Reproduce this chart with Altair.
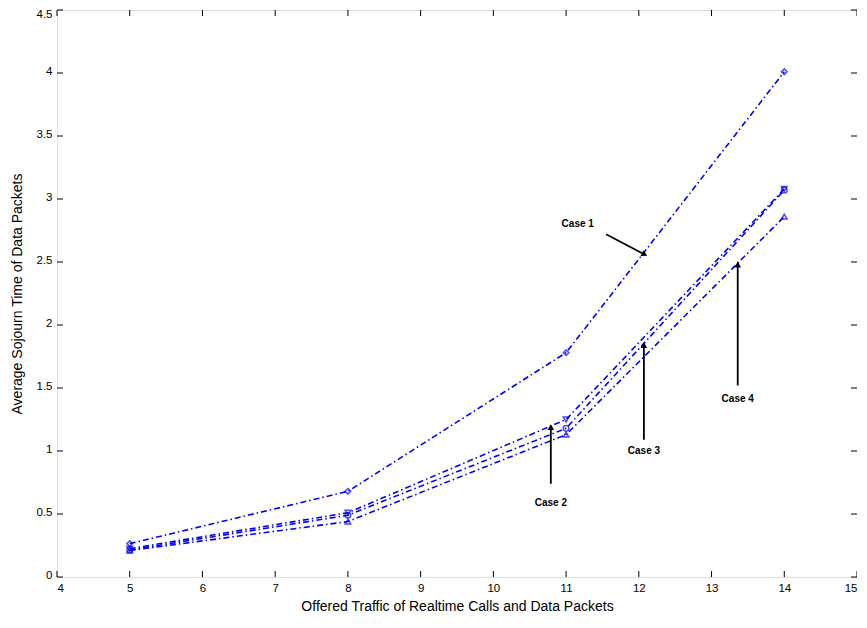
import altair as alt
import pandas as pd

traffic = [5, 8, 11, 14]
case1 = [0.265, 0.68, 1.78, 4.01]
case2 = [0.225, 0.51, 1.25, 3.08]
case3 = [0.215, 0.49, 1.18, 3.07]
case4 = [0.21, 0.44, 1.13, 2.86]
case_names = ["Case 1", "Case 2", "Case 3", "Case 4"]
shapes = ["diamond", "triangle-down", "circle", "triangle-up"]
dashes = [[6, 3, 1.5, 3], [6, 3, 1.5, 3], [6, 3, 1.5, 3], [6, 3, 1.5, 3]]

# annotation text positions and arrows (data coordinates)
label_x = [11.16, 10.79, 12.07, 13.36]
label_y = [2.80, 0.585, 1.00, 1.41]
arrow_x0 = [11.55, 10.79, 12.07, 13.36]
arrow_y0 = [2.72, 0.74, 1.09, 1.52]
arrow_x1 = [12.08, 10.79, 12.07, 13.36]
arrow_y1 = [2.56, 1.19, 1.84, 2.48]
arrow_angle = [117, 0, 0, 0]

x_ticks = list(range(4, 16))
y_ticks = [0, 0.5, 1, 1.5, 2, 2.5, 3, 3.5, 4, 4.5]

rows = []
for name, vals in zip(case_names, [case1, case2, case3, case4]):
    for x, y in zip(traffic, vals):
        rows.append({"x": x, "y": y, "case": name})
df = pd.DataFrame(rows)

ann = pd.DataFrame({
    "case": case_names, "lx": label_x, "ly": label_y,
    "ax0": arrow_x0, "ay0": arrow_y0, "ax1": arrow_x1, "ay1": arrow_y1,
    "ang": arrow_angle,
})

W, H = 800, 567
FONT = "Liberation Sans"

xs = alt.Scale(domain=[4, 15], nice=False, zero=False)
ys = alt.Scale(domain=[0, 4.5], nice=False, zero=True)

xenc = alt.X("x:Q", scale=xs, axis=alt.Axis(
    title="Offered Traffic of Realtime Calls and Data Packets",
    values=x_ticks, format="d", ticks=False, grid=False, domain=False,
    labelFont=FONT, labelFontSize=11.5, labelColor="black", labelPadding=5,
    titleFont=FONT, titleFontSize=14, titleFontWeight="normal", titleColor="black",
    titlePadding=6))
yenc = alt.Y("y:Q", scale=ys, axis=alt.Axis(
    title="Average Sojourn Time of Data Packets",
    values=y_ticks, format="~g", ticks=False, grid=False,
    domain=False, labelFont=FONT, labelFontSize=11.5, labelColor="black",
    labelPadding=5, labelFlush=False, labelOffset=-2,
    labelBaseline=alt.condition("datum.value >= 4.5", alt.value("top"), alt.value("middle")),
    titleFont=FONT, titleFontSize=14, titleFontWeight="normal", titleColor="black",
    titlePadding=12))

color_scale = alt.Scale(domain=case_names, range=["#0000FF"] * 4)

lines = alt.Chart(df).mark_line(strokeWidth=1.6).encode(
    x=xenc, y=yenc,
    color=alt.Color("case:N", scale=color_scale, legend=None),
    strokeDash=alt.StrokeDash("case:N", scale=alt.Scale(domain=case_names, range=dashes), legend=None),
)
points = alt.Chart(df).mark_point(filled=False, size=32, strokeWidth=1.5).encode(
    x=alt.X("x:Q", scale=xs), y=alt.Y("y:Q", scale=ys),
    color=alt.Color("case:N", scale=color_scale, legend=None),
    shape=alt.Shape("case:N", scale=alt.Scale(domain=case_names, range=shapes), legend=None),
)

# inward ticks
xt = pd.DataFrame({"t": x_ticks})
yt = pd.DataFrame({"t": y_ticks})
xtick_b = alt.Chart(xt).mark_rule(color="black", strokeWidth=1).encode(
    x=alt.X("t:Q", scale=xs), y=alt.value(H), y2=alt.value(H - 6))
xtick_t = alt.Chart(xt).mark_rule(color="black", strokeWidth=1).encode(
    x=alt.X("t:Q", scale=xs), y=alt.value(0), y2=alt.value(6))
ytick_l = alt.Chart(yt).mark_rule(color="black", strokeWidth=1).encode(
    y=alt.Y("t:Q", scale=ys), x=alt.value(0), x2=alt.value(6))
ytick_r = alt.Chart(yt).mark_rule(color="black", strokeWidth=1).encode(
    y=alt.Y("t:Q", scale=ys), x=alt.value(W), x2=alt.value(W - 6))

arrows = alt.Chart(ann).mark_rule(color="black", strokeWidth=1.8).encode(
    x=alt.X("ax0:Q", scale=xs), y=alt.Y("ay0:Q", scale=ys),
    x2="ax1:Q", y2="ay1:Q")
heads = alt.Chart(ann).mark_point(shape="triangle-up", filled=True, size=45,
                                  color="black", opacity=1).encode(
    x=alt.X("ax1:Q", scale=xs), y=alt.Y("ay1:Q", scale=ys),
    angle=alt.Angle("ang:Q", scale=None))
labels = alt.Chart(ann).mark_text(font=FONT, fontSize=10, fontWeight="bold",
                                  color="black").encode(
    x=alt.X("lx:Q", scale=xs), y=alt.Y("ly:Q", scale=ys), text="case:N")

chart = alt.layer(lines, points, xtick_b, xtick_t, ytick_l, ytick_r,
                  arrows, heads, labels).properties(
    width=W, height=H,
    autosize=alt.AutoSizeParams(type="none"),
    padding={"left": 49, "top": 2, "right": 0, "bottom": 50},
).configure_view(stroke="black", strokeWidth=1.8).configure(background="white")

chart.save("out.html", embed_options={"renderer": "svg", "actions": False})
